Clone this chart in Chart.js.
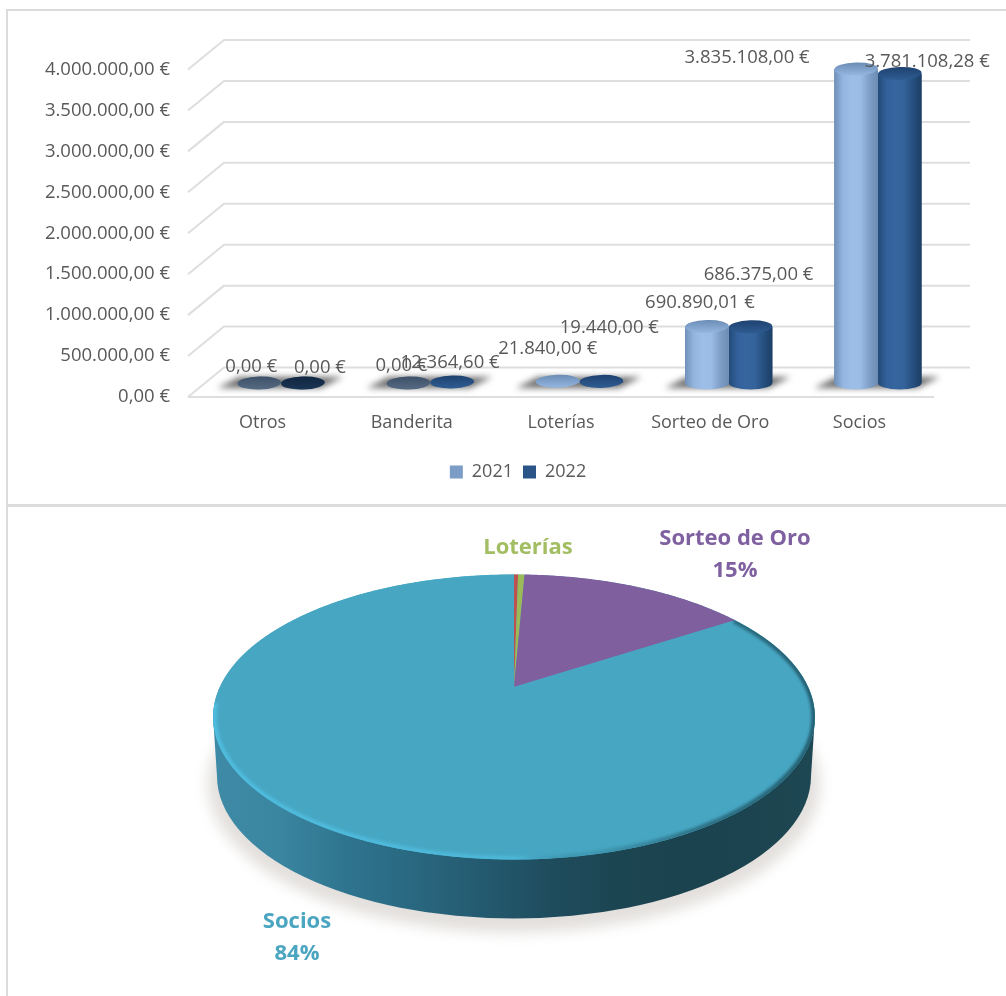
<!DOCTYPE html>
<html><head><meta charset="utf-8">
<script src="https://cdn.jsdelivr.net/npm/chart.js@4"></script>
<style>
html,body{margin:0;padding:0;background:#fff;width:1006px;height:996px;overflow:hidden}
canvas{position:absolute;left:0;display:block}
.f{position:absolute;background:#dcdcdc}
</style></head><body>
<div class="f" style="left:6px;top:9px;width:2px;height:987px"></div>
<div class="f" style="left:6px;top:9px;width:1000px;height:2px"></div>
<div class="f" style="left:6px;top:504px;width:1000px;height:3px"></div>
<canvas id="bars" width="1006" height="504" style="top:0"></canvas>
<canvas id="pie" width="1006" height="489" style="top:507px"></canvas>
<script>
const categories = ['Otros','Banderita','Loterías','Sorteo de Oro','Socios'];
const values2021 = [0,0,21840,690890.01,3835108];
const values2022 = [0,12364.6,19440,686375,3781108.28];
const pieLabels = ['Otros','Banderita','Loterías','Sorteo de Oro','Socios'];
const pieValues = [0,12364.6,19440,686375,3781108.28];
const pieColors = ['#f79646','#c0504d','#9bbb59','#7f5f9d','#47a7c3'];

const FONT = '"Open Sans", sans-serif';
const TXT = '#595959';
function euro(v){
  const p = v.toFixed(2).split('.');
  return p[0].replace(/\B(?=(\d{3})+$)/g,'.') + ',' + p[1] + ' €';
}
// 3D depth of the walls and the plane that the columns stand on
const DEPTH = {x:36, y:29.5};
const FLOOR = {x:18.5, y:-14};
const CAP_RY = 6.5;
// manual data label placement of the original (offset from column top)
const labelShift = [
  [[-8,-16],[-7,-17],[-10,-32],[-7,-24],[-109,-11.5]],
  [[17,-15],[-2,-19],[8,-54],[8,-52],[27.5,-12]]
];
const shade = [
  {body:['#6f90b8','#93b5df','#9dbee7','#9bbce4','#7f9fc8','#6c8cb4'], cap:['#6a8cb5','#94b6e0']},
  {body:['#234a78','#33609a','#37669f','#34629a','#25507f','#1d3e64'], cap:['#1f4270','#2e5c92']}
];
function hGrad(ctx,x0,x1,cols){
  const g = ctx.createLinearGradient(x0,0,x1,0);
  cols.forEach((c,i)=>g.addColorStop(i/(cols.length-1),c));
  return g;
}
const wallsAndColumns = {
  id:'wallsAndColumns',
  afterLayout(chart){chart.legend.left+=36;chart.legend.right+=36;},
  beforeDatasetsDraw(chart){
    const {ctx,chartArea:a,scales:{y}} = chart;
    ctx.save();
    ctx.strokeStyle='#dedede'; ctx.lineWidth=2; ctx.lineJoin='round';
    y.ticks.forEach(t=>{
      const py=y.getPixelForValue(t.value);
      ctx.beginPath();
      ctx.moveTo(a.left,py);
      ctx.lineTo(a.left+DEPTH.x,py-DEPTH.y);
      ctx.lineTo(a.right+DEPTH.x,py-DEPTH.y);
      ctx.stroke();
    });
    ctx.beginPath();
    ctx.moveTo(a.left,a.bottom);ctx.lineTo(a.right,a.bottom);ctx.stroke();
    // floor shadows
    const m0=chart.getDatasetMeta(0).data, m1=chart.getDatasetMeta(1).data;
    ctx.filter='blur(3px)';
    ctx.fillStyle='#6e6e6e';
    m0.forEach((el,i)=>{
      const l=el.x-el.width/2+FLOOR.x-14, r=m1[i].x+el.width/2+FLOOR.x+8;
      const b=y.getPixelForValue(0)+FLOOR.y+5, t=b-11;
      ctx.beginPath();
      ctx.moveTo(l-6,b);ctx.lineTo(r-12,b);ctx.lineTo(r+10,t);ctx.lineTo(l+16,t);ctx.closePath();ctx.fill();
    });
    ctx.restore();
  },
  beforeDatasetDraw(chart){chart.ctx.save();chart.ctx.translate(FLOOR.x,FLOOR.y);},
  afterDatasetDraw(chart,args){
    const {ctx,scales:{y}}=chart, s=shade[args.index];
    const zero=y.getPixelForValue(0);
    args.meta.data.forEach((el,i)=>{
      const rx=el.width/2, v=chart.data.datasets[args.index].data[i];
      if(v>100000){
        ctx.fillStyle=hGrad(ctx,el.x-rx,el.x+rx,s.body);
        ctx.beginPath();
        ctx.moveTo(el.x-rx,el.y);
        ctx.lineTo(el.x-rx,zero);
        ctx.ellipse(el.x,zero,rx,CAP_RY,0,Math.PI,0,true);
        ctx.lineTo(el.x+rx,el.y);
        ctx.closePath();ctx.fill();
      }
      const g=ctx.createLinearGradient(0,el.y-CAP_RY,0,el.y+CAP_RY);
      g.addColorStop(0,s.cap[0]);g.addColorStop(1,s.cap[1]);
      ctx.fillStyle=g;
      ctx.beginPath();ctx.ellipse(el.x,el.y,rx,CAP_RY,-0.03,0,Math.PI*2);ctx.fill();
      if(v===0){
        ctx.fillStyle='rgba(0,0,0,.42)';
        ctx.beginPath();ctx.ellipse(el.x,el.y,rx,CAP_RY,-0.03,0,Math.PI*2);ctx.fill();
      }
    });
    ctx.restore();
  },
  afterDraw(chart){
    const {ctx}=chart;
    ctx.save();
    ctx.font='18.5px '+FONT;ctx.fillStyle=TXT;ctx.textAlign='center';ctx.textBaseline='middle';
    chart.data.datasets.forEach((ds,d)=>{
      chart.getDatasetMeta(d).data.forEach((el,i)=>{
        const sh=labelShift[d][i];
        ctx.fillText(euro(ds.data[i]),el.x+FLOOR.x+sh[0],el.y+FLOOR.y+sh[1]);
      });
    });
    ctx.restore();
  }
};
new Chart(document.getElementById('bars'),{
  type:'bar',
  data:{labels:categories,datasets:[
    {label:'2021',data:values2021,backgroundColor:'#7b9cc6',categoryPercentage:0.585,barPercentage:1},
    {label:'2022',data:values2022,backgroundColor:'#2b5587',categoryPercentage:0.585,barPercentage:1}
  ]},
  options:{
    responsive:false,animation:false,
    layout:{padding:{left:30,right:72,top:69.5,bottom:13}},
    plugins:{
      tooltip:{enabled:false},
      legend:{position:'bottom',labels:{boxWidth:13,boxHeight:13,padding:10,color:TXT,font:{family:FONT,size:18}}}
    },
    scales:{
      x:{grid:{display:false},border:{display:false},
        ticks:{color:TXT,font:{family:FONT,size:18},padding:7,maxRotation:0},
        afterFit(s){s.height=56;}},
      y:{min:0,max:4000000,grid:{display:false},border:{display:false},
        ticks:{stepSize:500000,color:TXT,font:{family:FONT,size:18.5},padding:10,callback:v=>euro(v)},
        afterFit(s){s.width=158;}}
    }
  },
  plugins:[wallsAndColumns]
});

// ---- 3D pie ----
const TILT = {sx:1.433, sy:0.679, apex:0.21, depth:59, base:0.987};
const pieText = [
  {i:2,pos:[528,41],col:'#a3bd62',pct:false},
  {i:3,pos:[735,32],col:'#7f60a0',pct:true},
  {i:4,pos:[297,415],col:'#4aa5c0',pct:true}
];
function rim(cx,cy,rx,ry,a,angle){
  // ray from the projected centre to the ellipse edge
  const th=angle+Math.PI/2, dx=Math.sin(th), dy=-Math.cos(th), ay=-a;
  const b=ay*dy, t=-b+Math.sqrt(b*b-(ay*ay-1));
  return [cx+rx*t*dx, cy+ry*(ay+t*dy)];
}
const pie3d = {
  id:'pie3d',
  beforeDatasetDraw(chart,args){
    const {ctx}=chart, arcs=args.meta.data, A=arcs[0];
    const cx=A.x, cy=A.y, rx=A.outerRadius*TILT.sx, ry=A.outerRadius*TILT.sy, d=TILT.depth;
    const rxb=rx*TILT.base;
    ctx.save();
    // ground shadow
    ctx.save();ctx.filter='blur(7px)';ctx.fillStyle='#e2dfdc';
    ctx.beginPath();ctx.ellipse(cx,cy+d+8,rx+5,ry+6,0,0,Math.PI*2);ctx.fill();ctx.restore();
    // side wall
    ctx.fillStyle=hGrad(ctx,cx-rx,cx+rx,['#3f8ba7','#3a85a0','#2f748f','#296880','#245a70','#1f4d5e','#1c4552','#1b434f','#1c4450','#1d4752']);
    ctx.beginPath();
    ctx.moveTo(cx-rx,cy);
    ctx.lineTo(cx-rxb,cy+d);
    ctx.ellipse(cx,cy+d,rxb,ry,0,Math.PI,0,true);
    ctx.lineTo(cx+rx,cy);
    ctx.closePath();ctx.fill();
    // top surface
    ctx.fillStyle=arcs[4].options.backgroundColor;
    ctx.beginPath();ctx.ellipse(cx,cy,rx,ry,0,0,Math.PI*2);ctx.fill();
    arcs.forEach(el=>{
      if(el.endAngle-el.startAngle<1e-4) return;
      ctx.fillStyle=el.options.backgroundColor;
      ctx.beginPath();
      ctx.moveTo(cx,cy-TILT.apex*ry);
      const n=Math.max(2,Math.ceil((el.endAngle-el.startAngle)/0.01));
      for(let k=0;k<=n;k++){
        const p=rim(cx,cy,rx,ry,TILT.apex,el.startAngle+(el.endAngle-el.startAngle)*k/n);
        ctx.lineTo(p[0],p[1]);
      }
      ctx.closePath();ctx.fill();
    });
    // bevel on the edge
    ctx.save();
    ctx.beginPath();ctx.ellipse(cx,cy,rx,ry,0,0,Math.PI*2);ctx.clip();
    const g=ctx.createLinearGradient(cx-rx,0,cx+rx,0);
    g.addColorStop(0,'rgba(80,190,225,.95)');g.addColorStop(.5,'rgba(80,190,225,.7)');
    g.addColorStop(.62,'rgba(40,100,120,.2)');g.addColorStop(.8,'rgba(25,70,85,.55)');g.addColorStop(1,'rgba(25,70,85,.75)');
    ctx.strokeStyle=g;ctx.lineWidth=7;ctx.filter='blur(1.5px)';
    ctx.beginPath();ctx.ellipse(cx,cy,rx,ry,0,-0.75,Math.PI+0.1);ctx.stroke();
    ctx.restore();
    ctx.restore();
    return false;
  },
  afterDraw(chart){
    const {ctx}=chart, total=pieValues.reduce((a,b)=>a+b,0);
    ctx.save();
    ctx.font='bold 22px '+FONT;ctx.textAlign='center';ctx.textBaseline='middle';
    pieText.forEach(t=>{
      ctx.fillStyle=t.col;
      ctx.fillText(pieLabels[t.i],t.pos[0],t.pos[1]);
      if(t.pct) ctx.fillText(Math.round(pieValues[t.i]/total*100)+'%',t.pos[0],t.pos[1]+32);
    });
    ctx.restore();
  }
};
new Chart(document.getElementById('pie'),{
  type:'pie',
  data:{labels:pieLabels,datasets:[{data:pieValues,backgroundColor:pieColors,borderWidth:0}]},
  options:{
    responsive:false,animation:false,
    layout:{padding:{left:22,bottom:69}},
    plugins:{legend:{display:false},tooltip:{enabled:false}}
  },
  plugins:[pie3d]
});
</script>
</body></html>
